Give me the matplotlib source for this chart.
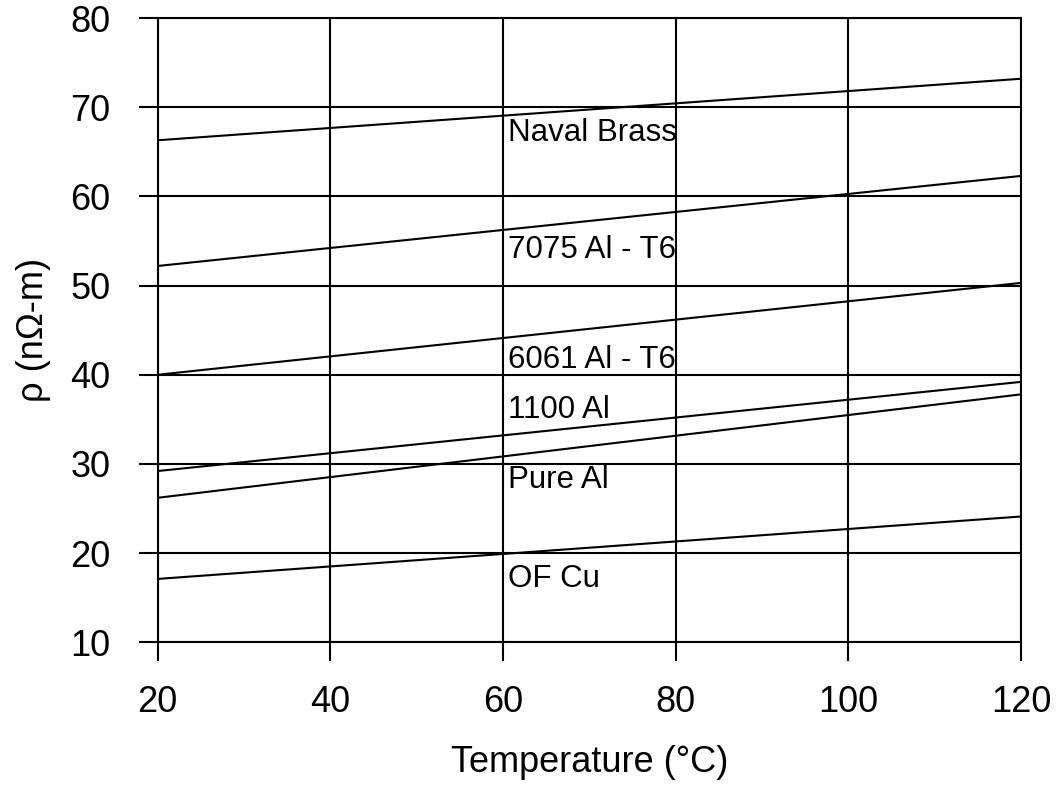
import matplotlib
matplotlib.use("Agg")
import matplotlib.pyplot as plt

# resistivity vs temperature, straight-line fits between 20 and 120 C
temps = [20, 120]
naval_brass = [66.3, 73.2]
al_7075_t6 = [52.2, 62.3]
al_6061_t6 = [40.0, 50.3]
al_1100 = [29.2, 39.2]
pure_al = [26.2, 37.8]
of_cu = [17.1, 24.1]

series = [naval_brass, al_7075_t6, al_6061_t6, al_1100, pure_al, of_cu]
labels = ["Naval Brass", "7075 Al - T6", "6061 Al - T6", "1100 Al", "Pure Al", "OF Cu"]
label_y = [67.1, 54.0, 41.7, 36.1, 28.2, 17.1]

plt.rcParams["font.family"] = ["Liberation Sans", "DejaVu Sans"]

fig = plt.figure(figsize=(10.58, 7.88), dpi=100)
ax = fig.add_axes([0.149, 0.185, 0.816, 0.792])

for vals in series:
    ax.plot(temps, vals, color="black", lw=1.5)

for name, y in zip(labels, label_y):
    ax.text(60.6, y, name, fontsize=22.5, va="center", ha="left")

ax.set_xlim(20, 120)
ax.set_ylim(10, 80)
ax.set_xticks(range(20, 121, 20))
ax.set_yticks(range(10, 81, 10))
ax.grid(True, color="black", lw=1.5)
ax.set_axisbelow(True)
for s in ax.spines.values():
    s.set_linewidth(1.5)

ax.tick_params(axis="both", labelsize=26, length=14, width=1.5, direction="out")
ax.tick_params(axis="x", pad=17)
ax.tick_params(axis="y", pad=20)

ax.set_xlabel("Temperature (°C)", fontsize=26, labelpad=18)
ax.set_ylabel("ρ (nΩ-m)", fontsize=26, labelpad=14)

fig.savefig("out.png", dpi=100)
